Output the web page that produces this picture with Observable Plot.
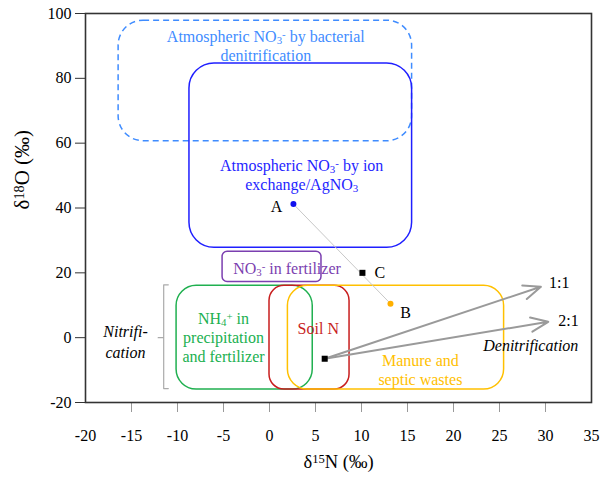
<!DOCTYPE html>
<html><head><meta charset="utf-8">
<script src="https://cdn.jsdelivr.net/npm/d3@7"></script>
<script src="https://cdn.jsdelivr.net/npm/@observablehq/plot@0.6"></script>
<style>
body{margin:0;background:#fff}
#chart svg, #chart svg text, #chart svg tspan{font-family:"Liberation Serif","Times New Roman",serif !important}
</style>
</head><body><div id="chart"></div>
<script>
// ---- axis ticks ----
const xTickMarks = [-15, -10, -5, 0, 5, 10, 15, 20, 25, 30];
const xTickLabels = [-20, -15, -10, -5, 0, 5, 10, 15, 20, 25, 30, 35];
const yTicks = [-20, 0, 20, 40, 60, 80, 100];
const xTitle = "δ^{15}N (‰)";
const yTitle = "δ^{18}O (‰)";

// ---- source regions (rounded boxes) ----
const regionNames = ["bacterial", "ionExchange", "fertilizerNO3", "nh4", "soilN", "manure"];
const regionX1 = [-16.4, -8.7, -5.1, -10.1, 0.0, 2.0];
const regionX2 = [15.5, 15.5, 5.65, 4.7, 8.7, 25.5];
const regionY1 = [60.6, 27.7, 17.2, -16, -16, -16];
const regionY2 = [97.8, 84.6, 26.5, 16, 16, 16];
const regionColors = ["#3f8cff", "#1f1fff", "#7b3fb0", "#20b050", "#c81e1e", "#ffc000"];
const regionRadius = [25, 25, 5, 20, 15, 20];
const regionDash = ["6,4", null, null, null, null, null];

// ---- region labels ----
const labelTexts = [
  "Atmospheric NO_{3}^{-} by bacterial\ndenitrification",
  "Atmospheric NO_{3}^{-} by ion\nexchange/AgNO_{3}",
  "NO_{3}^{-} in fertilizer",
  "NH_{4}^{+} in\nprecipitation\nand fertilizer",
  "Soil N",
  "Manure and\nseptic wastes"
];
const labelX = [-0.4, 3.5, 1.9, -5.0, 5.3, 16.4];
const labelY = [90.1, 50.4, 21.5, 0.3, 3.1, -9.8];
const labelColors = ["#3f8cff", "#1f1fff", "#7b3fb0", "#20b050", "#c81e1e", "#ffc000"];

// ---- process labels (italic) ----
const procTexts = ["Nitrifi-\ncation", "Denitrification"];
const procX = [-15.65, 28.4];
const procY = [-1.1, -2.2];

// ---- bracket for nitrification ----
const bracketX = [-11.0, -11.5, -11.5, -12.1, -11.5, -11.5, -11.0];
const bracketY = [16.3, 16.3, 0, 0, 0, -15.7, -15.7];

// ---- samples ----
const pointNames = ["A", "B", "C", ""];
const pointX = [2.6, 13.15, 10.1, 6.0];
const pointY = [41.2, 10.5, 20.0, -6.5];
const pointColors = ["#1010ee", "#ffb000", "#000000", "#000000"];
const pointSymbols = ["circle", "circle", "square", "square"];
const pointR = [3.5, 3.5, 4.5, 4.5];
const pointLabelX = [0.76, 14.8, 12.0];
const pointLabelY = [40.3, 7.7, 20.0];

// ---- denitrification arrows ----
const arrowLabels = ["1:1", "2:1"];
const arrowEndX = [29.5, 30.3];
const arrowEndY = [15.7, 4.9];
const arrowLabelX = [31.5, 32.5];
const arrowLabelY = [16.9, 5.2];

const idx = a => a.map((_, i) => i);
const FONT = "Liberation Serif";

const marks = [];
regionNames.forEach((name, k) => {
  marks.push(Plot.rect([k], {
    x1: i => regionX1[i], x2: i => regionX2[i],
    y1: i => regionY1[i], y2: i => regionY2[i],
    fill: "none", stroke: regionColors[k], strokeWidth: 1.5,
    rx: regionRadius[k], ry: regionRadius[k],
    strokeDasharray: regionDash[k] || undefined
  }));
});

marks.push(
  Plot.link([0], {x1: () => pointX[0], y1: () => pointY[0], x2: () => pointX[1], y2: () => pointY[1],
    stroke: "#c8c8c8", strokeWidth: 1}),
  Plot.line(idx(bracketX), {x: i => bracketX[i], y: i => bracketY[i], stroke: "#aaa", strokeWidth: 1.2, curve: "linear"}),
  Plot.arrow(idx(arrowLabels), {
    x1: () => pointX[3], y1: () => pointY[3],
    x2: i => arrowEndX[i], y2: i => arrowEndY[i],
    stroke: "#9a9a9a", strokeWidth: 2, headLength: 14, headAngle: 45
  }),
  Plot.text(idx(labelTexts), {
    x: i => labelX[i], y: i => labelY[i], text: i => labelTexts[i],
    fill: i => labelColors[i], fontSize: 16, fontFamily: FONT, lineHeight: 1.2, textAnchor: "middle"
  }),
  Plot.text(idx(procTexts), {
    x: i => procX[i], y: i => procY[i], text: i => procTexts[i],
    fill: "#000", fontSize: 16, fontFamily: FONT, fontStyle: "italic", lineHeight: 1.3, textAnchor: "middle"
  }),
  Plot.dot(idx(pointNames), {
    x: i => pointX[i], y: i => pointY[i], fill: i => pointColors[i],
    symbol: i => pointSymbols[i], r: i => pointR[i], stroke: "none"
  }),
  Plot.text(idx(pointLabelX), {
    x: i => pointLabelX[i], y: i => pointLabelY[i], text: i => pointNames[i],
    fill: "#000", fontSize: 16, fontFamily: FONT, textAnchor: "middle"
  }),
  Plot.text(idx(arrowLabels), {
    x: i => arrowLabelX[i], y: i => arrowLabelY[i], text: i => arrowLabels[i],
    fill: "#000", fontSize: 16, fontFamily: FONT, textAnchor: "middle"
  }),
  Plot.axisX({ticks: xTickMarks, tickSize: 10, tickFormat: () => "", stroke: "#999", label: null}),
  Plot.axisX({ticks: xTickLabels, tickSize: 0, tickPadding: 27, tickFormat: d => String(d), fontSize: 16, fontFamily: FONT, fill: "#000", label: null}),
  Plot.axisY({ticks: yTicks, tickSize: 10, tickPadding: 4, tickFormat: d => String(d), fontSize: 16, fontFamily: FONT, stroke: "#333", fill: "#000", label: null}),
  Plot.text([xTitle], {frameAnchor: "bottom", dy: 65, fontSize: 18.5, fontFamily: FONT, fill: "#000"}),
  Plot.text([yTitle], {frameAnchor: "left", dx: -63, dy: 1.5, rotate: -90, fontSize: 21, fontFamily: FONT, fill: "#000"}),
  Plot.frame({stroke: "#333", strokeWidth: 1.6})
);

const chart = Plot.plot({
  width: 608, height: 477,
  marginLeft: 85, marginRight: 17, marginTop: 13, marginBottom: 75,
  x: {domain: [-20, 35]},
  y: {domain: [-20, 100]},
  style: {fontFamily: "'Liberation Serif', serif", fontSize: "16px", background: "#fff"},
  marks
});

// Convert _{..} / ^{..} markup into real subscript / superscript tspans
function formatScripts(root) {
  const nodes = Array.from(root.querySelectorAll("text, tspan"));
  const re = /([_^])\{([^}]*)\}/g;
  for (const el of nodes) {
    if (el.childNodes.length !== 1 || el.firstChild.nodeType !== 3) continue;
    const s = el.textContent;
    if (!re.test(s)) continue;
    re.lastIndex = 0;
    el.textContent = "";
    let last = 0, m;
    while ((m = re.exec(s))) {
      if (m.index > last) el.appendChild(document.createTextNode(s.slice(last, m.index)));
      const t = document.createElementNS("http://www.w3.org/2000/svg", "tspan");
      t.setAttribute("baseline-shift", m[1] === "_" ? "-22%" : "35%");
      t.setAttribute("font-size", "68%");
      t.textContent = m[2];
      el.appendChild(t);
      last = re.lastIndex;
    }
    if (last < s.length) el.appendChild(document.createTextNode(s.slice(last)));
  }
}
formatScripts(chart);
document.getElementById("chart").appendChild(chart);
</script>
</body></html>
